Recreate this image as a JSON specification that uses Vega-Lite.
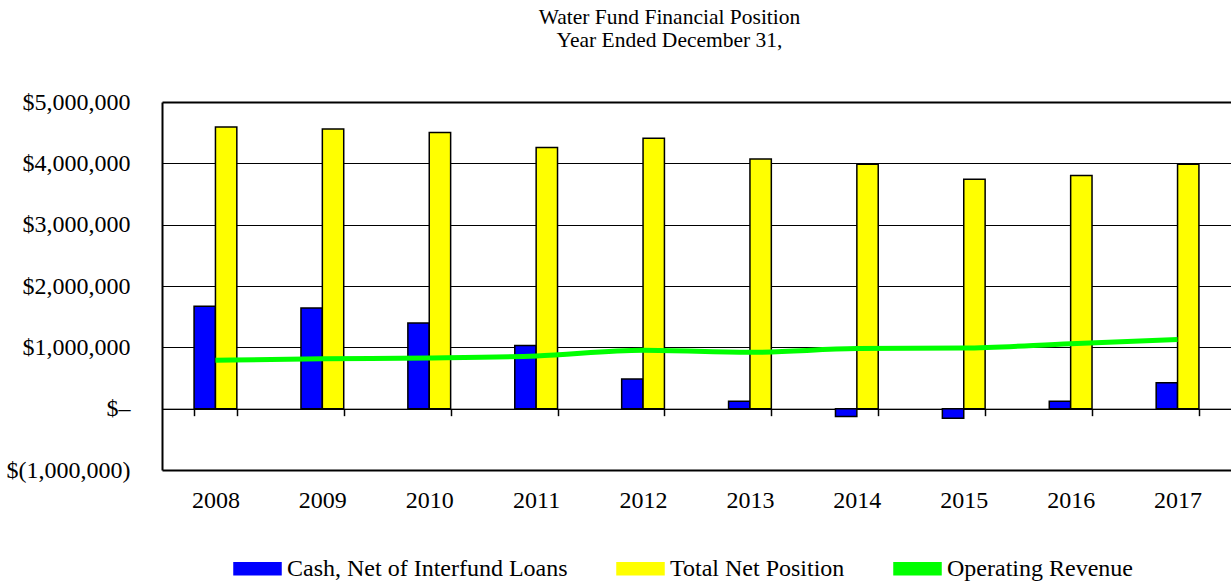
{
  "$schema": "https://vega.github.io/schema/vega-lite/v6.json",
  "autosize": {"type": "none"},
  "padding": {"left": 162, "top": 102, "right": 0, "bottom": 113},
  "width": 1069,
  "height": 368,
  "background": "white",
  "config": {
    "font": "Liberation Serif",
    "view": {"stroke": null},
    "axis": {"labelFont": "Liberation Serif", "labelColor": "black", "labelFontSize": 24}
  },
  "title": {
    "text": ["Water Fund Financial  Position", "Year Ended December 31,"],
    "font": "Liberation Serif",
    "fontSize": 21.5,
    "fontWeight": "normal",
    "color": "black",
    "lineHeight": 23,
    "anchor": "middle",
    "dx": -27,
    "offset": 39
  },
  "data": {
    "values": [
      {"year": "2008", "series": "Cash, Net of Interfund Loans", "value": 1669000},
      {"year": "2009", "series": "Cash, Net of Interfund Loans", "value": 1641000},
      {"year": "2010", "series": "Cash, Net of Interfund Loans", "value": 1397000},
      {"year": "2011", "series": "Cash, Net of Interfund Loans", "value": 1028000},
      {"year": "2012", "series": "Cash, Net of Interfund Loans", "value": 483000},
      {"year": "2013", "series": "Cash, Net of Interfund Loans", "value": 119000},
      {"year": "2014", "series": "Cash, Net of Interfund Loans", "value": -126000},
      {"year": "2015", "series": "Cash, Net of Interfund Loans", "value": -158000},
      {"year": "2016", "series": "Cash, Net of Interfund Loans", "value": 119000},
      {"year": "2017", "series": "Cash, Net of Interfund Loans", "value": 424000},
      {"year": "2008", "series": "Total Net Position", "value": 4594000},
      {"year": "2009", "series": "Total Net Position", "value": 4561000},
      {"year": "2010", "series": "Total Net Position", "value": 4502000},
      {"year": "2011", "series": "Total Net Position", "value": 4258000},
      {"year": "2012", "series": "Total Net Position", "value": 4410000},
      {"year": "2013", "series": "Total Net Position", "value": 4072000},
      {"year": "2014", "series": "Total Net Position", "value": 3985000},
      {"year": "2015", "series": "Total Net Position", "value": 3741000},
      {"year": "2016", "series": "Total Net Position", "value": 3800000},
      {"year": "2017", "series": "Total Net Position", "value": 3985000},
      {"year": "2008", "series": "Operating Revenue", "value": 788000},
      {"year": "2009", "series": "Operating Revenue", "value": 815000},
      {"year": "2010", "series": "Operating Revenue", "value": 826000},
      {"year": "2011", "series": "Operating Revenue", "value": 858000},
      {"year": "2012", "series": "Operating Revenue", "value": 951000},
      {"year": "2013", "series": "Operating Revenue", "value": 918000},
      {"year": "2014", "series": "Operating Revenue", "value": 979000},
      {"year": "2015", "series": "Operating Revenue", "value": 989000},
      {"year": "2016", "series": "Operating Revenue", "value": 1060000},
      {"year": "2017", "series": "Operating Revenue", "value": 1126000}
    ]
  },
  "encoding": {
    "x": {
      "field": "year",
      "type": "nominal",
      "scale": {"paddingInner": 0.6, "paddingOuter": 0.3},
      "axis": {
        "title": null,
        "labelAngle": 0,
        "offset": -61.33,
        "tickBand": "extent",
        "tickSize": 7,
        "tickColor": "black",
        "tickWidth": 1.5,
        "domainColor": "black",
        "domainWidth": 1,
        "labelPadding": 73,
        "grid": false
      }
    },
    "y": {
      "type": "quantitative",
      "scale": {"domain": [-1000000, 5000000], "nice": false, "zero": false},
      "axis": {
        "title": null,
        "values": [-1000000, 0, 1000000, 2000000, 3000000, 4000000, 5000000],
        "grid": true,
        "gridColor": "black",
        "gridOpacity": 1,
        "gridWidth": {"condition": {"test": "datum.value == 5000000 || datum.value == -1000000", "value": 2}, "value": 1.2},
        "ticks": false,
        "domainColor": "black",
        "domainWidth": 2,
        "labelPadding": 32,
        "labelExpr": "datum.value == 0 ? '$–' : (datum.value < 0 ? '$(' + format(-datum.value, ',') + ')' : '$' + format(datum.value, ','))"
      }
    }
  },
  "layer": [
    {
      "transform": [{"filter": "datum.series != 'Operating Revenue'"}],
      "mark": {"type": "bar", "stroke": "black", "strokeWidth": 1.5},
      "encoding": {
        "y": {"field": "value", "type": "quantitative"},
        "xOffset": {
          "field": "series",
          "type": "nominal",
          "sort": ["Cash, Net of Interfund Loans", "Total Net Position"],
          "scale": {"paddingInner": 0, "paddingOuter": 0}
        },
        "color": {
          "field": "series",
          "type": "nominal",
          "scale": {
            "domain": ["Cash, Net of Interfund Loans", "Total Net Position", "Operating Revenue"],
            "range": ["#0000FF", "#FFFF00", "#00FF00"]
          },
          "legend": {
            "title": null,
            "orient": "none",
            "direction": "horizontal",
            "legendX": 71,
            "legendY": 442,
            "labelFont": "Liberation Serif",
            "labelFontSize": 24,
            "labelColor": "black",
            "labelLimit": 500,
            "labelOffset": 5,
            "columnPadding": 46,
            "symbolSize": 2209,
            "symbolType": "M-1,-0.255H1V0.255H-1Z",
            "symbolStrokeColor": "black",
            "symbolStrokeWidth": 1.5,
            "symbolOpacity": 1
          }
        }
      }
    },
    {
      "transform": [{"filter": "datum.series == 'Operating Revenue'"}],
      "mark": {"type": "line", "strokeWidth": 5, "interpolate": "monotone"},
      "encoding": {
        "y": {"field": "value", "type": "quantitative"},
        "color": {"datum": "Operating Revenue"}
      }
    }
  ]
}
